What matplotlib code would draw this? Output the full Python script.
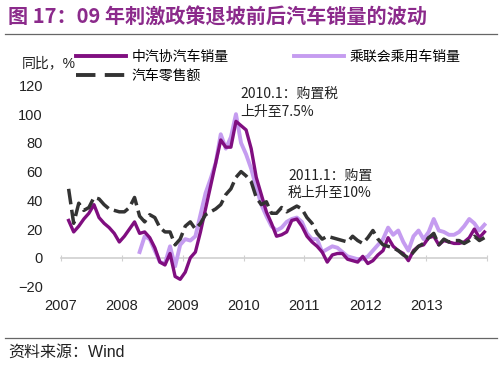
import numpy as np
import matplotlib
matplotlib.use("Agg")
import matplotlib.pyplot as plt
from matplotlib.lines import Line2D

plt.rcParams['font.family'] = ['Liberation Sans', 'Noto Sans CJK SC']

nan = np.nan
years = ["2007", "2008", "2009", "2010", "2011", "2012", "2013"]

# monthly yoy growth, Jan 2007 .. Dec 2013
caam = [nan, 26, 18, 22, 27, 31, 37, 28, 24, 21, 17, 11,
        15, 20, 25, 17, 18, 14, 7, -3, -5, 3, -13, -15,
        -10, 0, 4, 18, 34, 50, 66, 82, 77, 77, 95, 92,
        89, 76, 56, 44, 32, 24, 15, 16, 18, 26, 27, 22,
        15, 11, 8, 4, -3, 2, 3, 3, -1, -2, -3, 1,
        -4, -2, 2, 5, 14, 8, 5, 3, -2, 5, 8, 9,
        14, 15, 9, 12, 11, 10, 10, 11, 14, 20, 14, 18]

cpca = [nan] * 15 + [4, 15, 13, 5, -3, -4, 8, -6, 9,
        13, 12, 15, 30, 45, 55, 66, 86, 76, 84, 100, 80,
        72, 62, 49, 37, 29, 22, 19, 21, 25, 27, 28, 25,
        17, 13, 13, 4, 6, 8, 7, 4, 1, 0, -1, -1,
        1, 5, 9, 13, 21, 16, 19, 11, 5, 15, 19, 13,
        18, 27, 19, 18, 16, 16, 18, 22, 27, 24, 19, 23]

retail = [nan, 48, 24, 38, 33, 35, 42, 41, 37, 34, 33, 32,
          32, 35, 42, 29, 25, 30, 28, 21, 18, 18, 9, 13,
          22, 25, 20, 24, 30, 32, 34, 37, 44, 48, 56, 60,
          57, 53, 42, 37, 39, 31, 31, 35, 32, 34, 36, 34,
          28, 24, 17, 13, 15, 14, 13, 12, 11, 15, 12, 10,
          14, 19, 13, 9, 8, 7, 5, 2, 0, 4, 8, 10,
          14, 17, 9, 13, 11, 12, 12, 10, 12, 15, 12, 14]

x = np.arange(len(caam)) + 0.5

fig = plt.figure(figsize=(5, 3.65), dpi=100)
ax = fig.add_axes([0.122, 0.215, 0.852, 0.551])

dark = "#800E80"
light = "#C59CF0"
grey = "#333333"

ax.plot(x, cpca, color=light, lw=2.8, solid_joinstyle='round', zorder=2)
ax.plot(x, caam, color=dark, lw=2.4, solid_joinstyle='round', zorder=3)
ax.plot(x, retail, color=grey, lw=2.5, linestyle=(0, (4.5, 1.6)), zorder=4)

ax.set_xlim(0, 84)
ax.set_ylim(-20, 120)
ax.set_yticks(range(-20, 121, 20))
ax.set_xticks(range(0, 84, 12))
ax.set_xticklabels(years)
ax.tick_params(axis='both', length=0, labelsize=10.5, colors="#222222")
ax.tick_params(axis='x', pad=9)
ax.tick_params(axis='y', pad=13, labelsize=10.5)
for s in ax.spines.values():
    s.set_visible(False)

# zero line with year ticks
zero = ax.secondary_xaxis(20 / 140)
zero.set_xticks(range(0, 85, 12))
zero.tick_params(length=4, direction='inout', color="#D0D0D0", labelbottom=False)
zero.spines['bottom'].set_color("#D0D0D0")
zero.spines['bottom'].set_linewidth(1.2)

# legend
h_dark = Line2D([], [], color=dark, lw=2.8)
h_retail = Line2D([], [], color=grey, lw=2.8, linestyle=(0, (5, 2.4)))
h_light = Line2D([], [], color=light, lw=2.8)
fig.legend([h_dark, h_retail, h_light], ["中汽协汽车销量", "汽车零售额", "乘联会乘用车销量"],
           ncol=2, loc='upper left', bbox_to_anchor=(0.152, 0.864), frameon=False,
           fontsize=10, handlelength=3.6, handletextpad=0.4, labelspacing=0.35,
           columnspacing=4.7, borderpad=0, borderaxespad=0)

fig.text(0.044, 0.828, "同比，%", fontsize=10, va='center', color="#222222")

fig.text(0.48, 0.674, "2010.1：购置税\n上升至7.5%", fontsize=10, color="#222222",
         va='bottom', linespacing=1.25, family=['Noto Sans CJK SC'])
fig.text(0.576, 0.452, "2011.1：购置\n税上升至10%", fontsize=10, color="#222222",
         va='bottom', linespacing=1.25, family=['Noto Sans CJK SC'])

# title, rules and source
fig.text(0.016, 0.953, "图 17：09 年刺激政策退坡前后汽车销量的波动", fontsize=14.5,
         fontweight='bold', color="#8B2A8B", va='center', family=['Noto Sans CJK SC'])
fig.add_artist(Line2D([0.01, 0.994], [0.908, 0.908], color="#666666", lw=0.9))
fig.add_artist(Line2D([0.01, 0.994], [0.075, 0.075], color="#666666", lw=0.9))
fig.text(0.016, 0.035, "资料来源：Wind", fontsize=11.5, color="#222222", va='center')

fig.savefig("out.png", dpi=100)
